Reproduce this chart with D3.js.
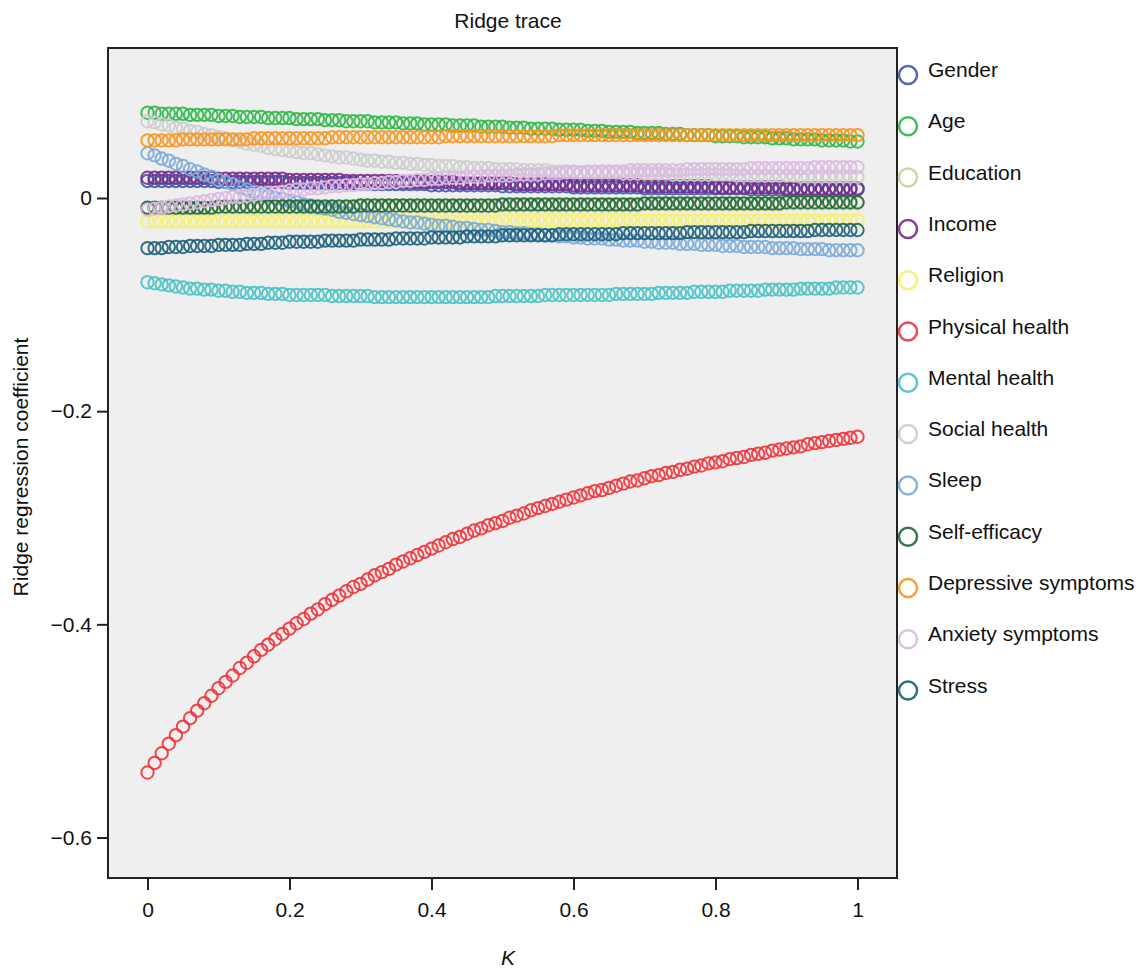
<!DOCTYPE html>
<html>
<head>
<meta charset="utf-8">
<script src="https://cdn.jsdelivr.net/npm/d3@7"></script>
<style>
  body { margin: 0; background: #fff; }
</style>
</head>
<body>
<div id="ridge"></div>
<script>

// ridge parameter K, one point every 0.01
var kValues = [
  0.00,0.01,0.02,0.03,0.04,0.05,0.06,0.07,0.08,0.09,
  0.10,0.11,0.12,0.13,0.14,0.15,0.16,0.17,0.18,0.19,
  0.20,0.21,0.22,0.23,0.24,0.25,0.26,0.27,0.28,0.29,
  0.30,0.31,0.32,0.33,0.34,0.35,0.36,0.37,0.38,0.39,
  0.40,0.41,0.42,0.43,0.44,0.45,0.46,0.47,0.48,0.49,
  0.50,0.51,0.52,0.53,0.54,0.55,0.56,0.57,0.58,0.59,
  0.60,0.61,0.62,0.63,0.64,0.65,0.66,0.67,0.68,0.69,
  0.70,0.71,0.72,0.73,0.74,0.75,0.76,0.77,0.78,0.79,
  0.80,0.81,0.82,0.83,0.84,0.85,0.86,0.87,0.88,0.89,
  0.90,0.91,0.92,0.93,0.94,0.95,0.96,0.97,0.98,0.99,
  1.00]

var gender = [
  0.016,0.016,0.016,0.016,0.016,0.016,0.016,0.016,0.016,0.016,
  0.015,0.015,0.015,0.015,0.015,0.015,0.015,0.015,0.015,0.015,
  0.014,0.014,0.014,0.014,0.014,0.014,0.014,0.014,0.014,0.014,
  0.013,0.013,0.013,0.013,0.013,0.013,0.013,0.013,0.013,0.013,
  0.012,0.012,0.012,0.012,0.012,0.012,0.012,0.012,0.012,0.012,
  0.011,0.011,0.011,0.011,0.011,0.011,0.011,0.011,0.011,0.011,
  0.010,0.010,0.010,0.010,0.010,0.010,0.010,0.010,0.010,0.010,
  0.009,0.009,0.009,0.009,0.009,0.009,0.009,0.009,0.009,0.009,
  0.009,0.009,0.009,0.009,0.009,0.008,0.008,0.008,0.008,0.008,
  0.008,0.008,0.008,0.008,0.008,0.008,0.008,0.008,0.008,0.008,
  0.008]

var age = [
  0.080,0.080,0.079,0.079,0.079,0.079,0.078,0.078,0.078,0.078,
  0.077,0.077,0.077,0.076,0.076,0.076,0.076,0.075,0.075,0.075,
  0.075,0.074,0.074,0.074,0.074,0.073,0.073,0.073,0.072,0.072,
  0.072,0.072,0.071,0.071,0.071,0.071,0.070,0.070,0.070,0.069,
  0.069,0.069,0.069,0.068,0.068,0.068,0.068,0.067,0.067,0.067,
  0.067,0.066,0.066,0.066,0.065,0.065,0.065,0.065,0.064,0.064,
  0.064,0.064,0.063,0.063,0.063,0.062,0.062,0.062,0.062,0.061,
  0.061,0.061,0.061,0.060,0.060,0.060,0.059,0.059,0.059,0.059,
  0.058,0.058,0.058,0.058,0.057,0.057,0.057,0.057,0.056,0.056,
  0.056,0.055,0.055,0.055,0.055,0.054,0.054,0.054,0.054,0.053,
  0.053]

var education = [
  -0.010,-0.010,-0.010,-0.010,-0.010,-0.010,-0.010,-0.010,-0.010,-0.010,
  -0.009,-0.009,-0.009,-0.009,-0.009,-0.009,-0.009,-0.009,-0.009,-0.009,
  -0.009,-0.009,-0.009,-0.009,-0.009,-0.009,-0.009,-0.009,-0.009,-0.009,
  -0.008,-0.008,-0.008,-0.008,-0.008,-0.008,-0.008,-0.008,-0.008,-0.008,
  -0.008,-0.008,-0.008,-0.008,-0.008,-0.008,-0.008,-0.008,-0.008,-0.008,
  -0.007,-0.007,-0.007,-0.007,-0.007,-0.007,-0.007,-0.007,-0.007,-0.007,
  -0.007,-0.007,-0.007,-0.007,-0.007,-0.007,-0.007,-0.007,-0.007,-0.007,
  -0.006,-0.006,-0.006,-0.006,-0.006,-0.006,-0.006,-0.006,-0.006,-0.006,
  -0.006,-0.006,-0.006,-0.006,-0.006,-0.006,-0.006,-0.006,-0.006,-0.006,
  -0.005,-0.005,-0.005,-0.005,-0.005,-0.005,-0.005,-0.005,-0.005,-0.005,
  -0.005]

var income = [
  0.019,0.019,0.019,0.019,0.019,0.019,0.019,0.019,0.019,0.019,
  0.018,0.018,0.018,0.018,0.018,0.018,0.018,0.018,0.018,0.018,
  0.017,0.017,0.017,0.017,0.017,0.017,0.017,0.017,0.016,0.016,
  0.016,0.016,0.016,0.016,0.016,0.016,0.015,0.015,0.015,0.015,
  0.015,0.015,0.015,0.015,0.014,0.014,0.014,0.014,0.014,0.014,
  0.014,0.014,0.013,0.013,0.013,0.013,0.013,0.013,0.013,0.013,
  0.012,0.012,0.012,0.012,0.012,0.012,0.012,0.012,0.012,0.012,
  0.011,0.011,0.011,0.011,0.011,0.011,0.011,0.011,0.011,0.011,
  0.010,0.010,0.010,0.010,0.010,0.010,0.010,0.010,0.010,0.010,
  0.009,0.009,0.009,0.009,0.009,0.009,0.009,0.009,0.009,0.009,
  0.009]

var religion = [
  -0.022,-0.022,-0.022,-0.022,-0.022,-0.022,-0.022,-0.022,-0.022,-0.022,
  -0.022,-0.022,-0.022,-0.022,-0.022,-0.022,-0.022,-0.022,-0.022,-0.022,
  -0.022,-0.022,-0.022,-0.022,-0.022,-0.022,-0.022,-0.022,-0.022,-0.022,
  -0.022,-0.022,-0.022,-0.022,-0.022,-0.022,-0.022,-0.022,-0.022,-0.022,
  -0.022,-0.022,-0.022,-0.022,-0.022,-0.022,-0.022,-0.022,-0.022,-0.022,
  -0.021,-0.021,-0.021,-0.021,-0.021,-0.021,-0.021,-0.021,-0.021,-0.021,
  -0.021,-0.021,-0.021,-0.021,-0.021,-0.021,-0.021,-0.021,-0.021,-0.021,
  -0.021,-0.021,-0.021,-0.021,-0.021,-0.021,-0.021,-0.021,-0.021,-0.021,
  -0.021,-0.021,-0.021,-0.021,-0.021,-0.021,-0.021,-0.021,-0.021,-0.021,
  -0.021,-0.021,-0.021,-0.021,-0.021,-0.021,-0.021,-0.021,-0.021,-0.021,
  -0.021]

var physical = [
  -0.539,-0.530,-0.521,-0.512,-0.504,-0.496,-0.488,-0.481,-0.474,-0.467,
  -0.460,-0.454,-0.448,-0.441,-0.436,-0.430,-0.424,-0.419,-0.414,-0.409,
  -0.404,-0.399,-0.395,-0.390,-0.386,-0.381,-0.377,-0.373,-0.369,-0.365,
  -0.362,-0.358,-0.354,-0.351,-0.348,-0.344,-0.341,-0.338,-0.335,-0.332,
  -0.329,-0.326,-0.323,-0.320,-0.318,-0.315,-0.312,-0.310,-0.307,-0.305,
  -0.303,-0.300,-0.298,-0.296,-0.293,-0.291,-0.289,-0.287,-0.285,-0.283,
  -0.281,-0.279,-0.277,-0.275,-0.274,-0.272,-0.270,-0.268,-0.266,-0.265,
  -0.263,-0.261,-0.260,-0.258,-0.257,-0.255,-0.254,-0.252,-0.251,-0.249,
  -0.248,-0.247,-0.245,-0.244,-0.243,-0.241,-0.240,-0.239,-0.237,-0.236,
  -0.235,-0.234,-0.233,-0.231,-0.230,-0.229,-0.228,-0.227,-0.226,-0.225,
  -0.224]

var mental = [
  -0.079,-0.080,-0.081,-0.082,-0.083,-0.084,-0.085,-0.085,-0.086,-0.086,
  -0.087,-0.087,-0.088,-0.088,-0.089,-0.089,-0.089,-0.090,-0.090,-0.090,
  -0.091,-0.091,-0.091,-0.091,-0.091,-0.091,-0.092,-0.092,-0.092,-0.092,
  -0.092,-0.092,-0.093,-0.093,-0.093,-0.093,-0.093,-0.093,-0.093,-0.093,
  -0.093,-0.093,-0.093,-0.093,-0.093,-0.093,-0.093,-0.093,-0.093,-0.092,
  -0.092,-0.092,-0.092,-0.092,-0.092,-0.092,-0.091,-0.091,-0.091,-0.091,
  -0.091,-0.091,-0.091,-0.091,-0.091,-0.091,-0.090,-0.090,-0.090,-0.090,
  -0.090,-0.090,-0.089,-0.089,-0.089,-0.089,-0.089,-0.088,-0.088,-0.088,
  -0.088,-0.088,-0.087,-0.087,-0.087,-0.087,-0.087,-0.086,-0.086,-0.086,
  -0.086,-0.086,-0.085,-0.085,-0.085,-0.085,-0.085,-0.084,-0.084,-0.084,
  -0.084]

var social = [
  0.072,0.071,0.069,0.068,0.066,0.065,0.063,0.062,0.060,0.059,
  0.057,0.056,0.054,0.053,0.051,0.050,0.049,0.047,0.046,0.045,
  0.044,0.043,0.042,0.042,0.041,0.040,0.039,0.038,0.038,0.037,
  0.036,0.035,0.035,0.034,0.034,0.033,0.033,0.032,0.032,0.031,
  0.031,0.030,0.030,0.030,0.029,0.029,0.028,0.028,0.028,0.027,
  0.027,0.027,0.027,0.026,0.026,0.026,0.026,0.025,0.025,0.025,
  0.025,0.024,0.024,0.024,0.024,0.024,0.024,0.023,0.023,0.023,
  0.023,0.023,0.023,0.023,0.022,0.022,0.022,0.022,0.022,0.022,
  0.022,0.022,0.022,0.021,0.021,0.021,0.021,0.021,0.021,0.021,
  0.021,0.021,0.020,0.020,0.020,0.020,0.020,0.020,0.020,0.020,
  0.020]

var sleep = [
  0.042,0.040,0.037,0.035,0.032,0.030,0.027,0.025,0.022,0.020,
  0.017,0.015,0.013,0.010,0.008,0.006,0.004,0.002,0.000,-0.001,
  -0.003,-0.004,-0.006,-0.007,-0.009,-0.010,-0.011,-0.013,-0.014,-0.015,
  -0.016,-0.017,-0.018,-0.019,-0.020,-0.021,-0.022,-0.023,-0.023,-0.024,
  -0.025,-0.026,-0.026,-0.027,-0.028,-0.028,-0.029,-0.030,-0.030,-0.031,
  -0.032,-0.032,-0.033,-0.033,-0.034,-0.034,-0.035,-0.035,-0.036,-0.036,
  -0.037,-0.037,-0.038,-0.038,-0.038,-0.039,-0.039,-0.040,-0.040,-0.040,
  -0.041,-0.041,-0.042,-0.042,-0.042,-0.043,-0.043,-0.043,-0.044,-0.044,
  -0.044,-0.045,-0.045,-0.045,-0.046,-0.046,-0.046,-0.046,-0.047,-0.047,
  -0.047,-0.047,-0.048,-0.048,-0.048,-0.048,-0.049,-0.049,-0.049,-0.049,
  -0.049]

var selfEfficacy = [
  -0.009,-0.009,-0.009,-0.009,-0.009,-0.009,-0.009,-0.009,-0.009,-0.009,
  -0.008,-0.008,-0.008,-0.008,-0.008,-0.008,-0.008,-0.008,-0.008,-0.008,
  -0.008,-0.008,-0.008,-0.008,-0.008,-0.008,-0.008,-0.008,-0.008,-0.008,
  -0.007,-0.007,-0.007,-0.007,-0.007,-0.007,-0.007,-0.007,-0.007,-0.007,
  -0.007,-0.007,-0.007,-0.007,-0.007,-0.007,-0.007,-0.007,-0.007,-0.007,
  -0.006,-0.006,-0.006,-0.006,-0.006,-0.006,-0.006,-0.006,-0.006,-0.006,
  -0.006,-0.006,-0.006,-0.006,-0.006,-0.006,-0.006,-0.006,-0.006,-0.006,
  -0.005,-0.005,-0.005,-0.005,-0.005,-0.005,-0.005,-0.005,-0.005,-0.005,
  -0.005,-0.005,-0.005,-0.005,-0.005,-0.005,-0.005,-0.005,-0.005,-0.005,
  -0.004,-0.004,-0.004,-0.004,-0.004,-0.004,-0.004,-0.004,-0.004,-0.004,
  -0.004]

var depressive = [
  0.054,0.054,0.054,0.054,0.054,0.055,0.055,0.055,0.055,0.055,
  0.055,0.055,0.055,0.055,0.055,0.056,0.056,0.056,0.056,0.056,
  0.056,0.056,0.056,0.056,0.056,0.056,0.057,0.057,0.057,0.057,
  0.057,0.057,0.057,0.057,0.057,0.057,0.057,0.057,0.057,0.057,
  0.057,0.057,0.058,0.058,0.058,0.058,0.058,0.058,0.058,0.058,
  0.058,0.058,0.058,0.058,0.058,0.058,0.058,0.058,0.059,0.059,
  0.059,0.059,0.059,0.059,0.059,0.059,0.059,0.059,0.059,0.059,
  0.059,0.059,0.059,0.059,0.059,0.059,0.059,0.059,0.059,0.059,
  0.059,0.059,0.059,0.059,0.059,0.059,0.059,0.059,0.059,0.059,
  0.059,0.059,0.059,0.059,0.059,0.059,0.059,0.059,0.059,0.059,
  0.059]

var anxiety = [
  -0.011,-0.010,-0.009,-0.008,-0.007,-0.006,-0.005,-0.004,-0.003,-0.002,
  -0.001,0.000,0.001,0.001,0.002,0.003,0.004,0.005,0.005,0.006,
  0.007,0.008,0.008,0.009,0.009,0.010,0.011,0.011,0.012,0.012,
  0.013,0.013,0.014,0.014,0.015,0.015,0.016,0.016,0.017,0.017,
  0.018,0.018,0.019,0.019,0.019,0.020,0.020,0.020,0.021,0.021,
  0.021,0.021,0.022,0.022,0.022,0.022,0.023,0.023,0.023,0.024,
  0.024,0.024,0.025,0.025,0.025,0.025,0.025,0.025,0.026,0.026,
  0.026,0.026,0.026,0.026,0.026,0.026,0.027,0.027,0.027,0.027,
  0.027,0.027,0.027,0.027,0.027,0.028,0.028,0.028,0.028,0.028,
  0.028,0.028,0.028,0.028,0.029,0.029,0.029,0.029,0.029,0.029,
  0.029]

var stress = [
  -0.047,-0.047,-0.047,-0.046,-0.046,-0.046,-0.045,-0.045,-0.045,-0.045,
  -0.044,-0.044,-0.044,-0.044,-0.043,-0.043,-0.043,-0.042,-0.042,-0.042,
  -0.041,-0.041,-0.041,-0.041,-0.041,-0.040,-0.040,-0.040,-0.040,-0.040,
  -0.039,-0.039,-0.039,-0.039,-0.039,-0.038,-0.038,-0.038,-0.038,-0.038,
  -0.037,-0.037,-0.037,-0.037,-0.037,-0.036,-0.036,-0.036,-0.036,-0.036,
  -0.035,-0.035,-0.035,-0.035,-0.035,-0.035,-0.035,-0.035,-0.034,-0.034,
  -0.034,-0.034,-0.034,-0.034,-0.034,-0.034,-0.034,-0.033,-0.033,-0.033,
  -0.033,-0.033,-0.033,-0.033,-0.033,-0.033,-0.032,-0.032,-0.032,-0.032,
  -0.032,-0.032,-0.032,-0.032,-0.032,-0.031,-0.031,-0.031,-0.031,-0.031,
  -0.031,-0.031,-0.031,-0.031,-0.030,-0.030,-0.030,-0.030,-0.030,-0.030,
  -0.030]

var seriesNames = ["Gender", "Age", "Education", "Income", "Religion", "Physical health",
  "Mental health", "Social health", "Sleep", "Self-efficacy", "Depressive symptoms",
  "Anxiety symptoms", "Stress"]
var seriesValues = [gender, age, education, income, religion, physical,
  mental, social, sleep, selfEfficacy, depressive, anxiety, stress]
var seriesColors = ["#3e58ac", "#2eb848", "#d3ce97", "#7c2a8a", "#f6f068", "#ef3338",
  "#48c2c5", "#cccccc", "#7aaad9", "#1c6a38", "#f8961e", "#dcb8e2", "#1d5f7a"]

var xTicks = [0, 0.2, 0.4, 0.6, 0.8, 1]
var xTickLabels = ["0", "0.2", "0.4", "0.6", "0.8", "1"]
var yTicks = [0, -0.2, -0.4, -0.6]
var yTickLabels = ["0", "\u22120.2", "\u22120.4", "\u22120.6"]

var width = 1139,
    height = 968,
    frame = {left: 108, right: 897, top: 48, bottom: 878},
    font = "'Liberation Sans', Arial, sans-serif"

var svg = d3.select("#ridge")
  .append("svg")
    .attr("width", width)
    .attr("height", height)
    .style("display", "block")

// grey plot background
svg.append("rect")
  .attr("x", frame.left)
  .attr("y", frame.top)
  .attr("width", frame.right - frame.left)
  .attr("height", frame.bottom - frame.top)
  .attr("fill", "#efefef")

var x = d3.scaleLinear()
  .domain([0, 1])
  .range([147.5, 857.5])

var y = d3.scaleLinear()
  .domain([0, -0.6])
  .range([198, 837.5])

// one group of hollow circles per predictor, drawn in legend order
seriesValues.forEach(function(values, i) {
  svg.append("g")
    .selectAll("circle")
    .data(values)
    .enter()
    .append("circle")
      .attr("cx", function(d, j) { return x(kValues[j]) })
      .attr("cy", function(d) { return y(d) })
      .attr("r", 6.2)
      .attr("fill", "none")
      .attr("stroke", seriesColors[i])
      .attr("stroke-width", 2)
      .attr("stroke-opacity", 0.9)
})

// frame border on top of the points
svg.append("rect")
  .attr("x", frame.left)
  .attr("y", frame.top)
  .attr("width", frame.right - frame.left)
  .attr("height", frame.bottom - frame.top)
  .attr("fill", "none")
  .attr("stroke", "#222")
  .attr("stroke-width", 2)

// axes
var yAxis = svg.append("g")
  .attr("transform", "translate(" + frame.left + ",0)")
  .call(d3.axisLeft(y)
    .tickValues(yTicks)
    .tickFormat(function(d, i) { return yTickLabels[i] })
    .tickSize(11)
    .tickPadding(5))

var xAxis = svg.append("g")
  .attr("transform", "translate(0," + frame.bottom + ")")
  .call(d3.axisBottom(x)
    .tickValues(xTicks)
    .tickFormat(function(d, i) { return xTickLabels[i] })
    .tickSize(12)
    .tickPadding(12))

;[yAxis, xAxis].forEach(function(g) {
  g.select(".domain").remove()
  g.attr("color", "#222")
  g.selectAll(".tick line").attr("stroke-width", 2)
  g.selectAll(".tick text")
    .attr("font-family", font)
    .attr("font-size", 21)
    .attr("fill", "#111")
})

// titles
svg.append("text")
  .attr("x", 508)
  .attr("y", 28)
  .attr("text-anchor", "middle")
  .attr("font-family", font)
  .attr("font-size", 21)
  .attr("fill", "#111")
  .text("Ridge trace")

svg.append("text")
  .attr("x", 508)
  .attr("y", 965)
  .attr("text-anchor", "middle")
  .attr("font-family", font)
  .attr("font-size", 21)
  .attr("font-style", "italic")
  .attr("fill", "#111")
  .text("K")

svg.append("text")
  .attr("transform", "translate(28," + ((frame.top + frame.bottom) / 2 + 4) + ") rotate(-90)")
  .attr("text-anchor", "middle")
  .attr("font-family", font)
  .attr("font-size", 21)
  .attr("fill", "#111")
  .text("Ridge regression coefficient")

// legend at the right edge of the frame
var legend = svg.selectAll("legendRows")
  .data(seriesNames)
  .enter()
  .append("g")
    .attr("transform", function(d, i) { return "translate(908," + (75 + i * 51.3) + ")" })

legend.append("circle")
  .attr("r", 9)
  .attr("fill", "none")
  .attr("stroke", function(d, i) { return seriesColors[i] })
  .attr("stroke-width", 2.5)
  .attr("stroke-opacity", 0.9)

legend.append("text")
  .attr("x", 20)
  .attr("y", 2)
  .attr("font-family", font)
  .attr("font-size", 21)
  .attr("fill", "#111")
  .text(function(d) { return d })

</script>
</body>
</html>
